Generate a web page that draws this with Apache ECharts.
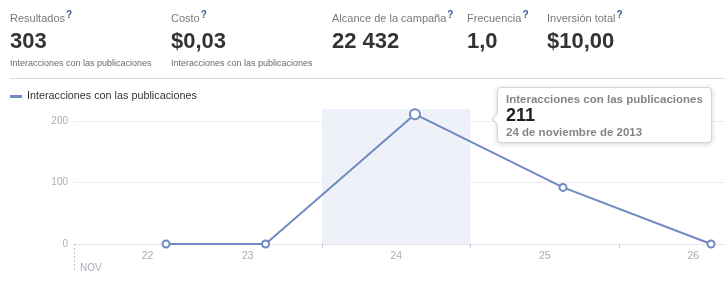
<!DOCTYPE html>
<html>
<head>
<meta charset="utf-8">
<script src="https://cdn.jsdelivr.net/npm/echarts@6/dist/echarts.min.js"></script>
<style>
  html, body { margin:0; padding:0; background:#fff; }
  #wrap { position:relative; width:725px; height:282px; overflow:hidden; font-family:"Liberation Sans", Arial, sans-serif; }
  #chart { position:absolute; left:0; top:0; width:725px; height:282px; }
  .kpi { position:absolute; white-space:nowrap; }
  .kl { position:absolute; top:13px; font-size:11px; line-height:11px; color:#7a7a7a; }
  .kl b { position:relative; top:-4px; font-size:10px; color:#3b5998; margin-left:1px; }
  .kv { position:absolute; top:30px; font-size:22px; line-height:22px; font-weight:bold; color:#333; }
  .ks { position:absolute; top:59px; font-size:9px; line-height:9px; color:#6a6a6a; }
  #sep { position:absolute; left:10px; top:78px; width:715px; height:1px; background:#dcdcdc; }
</style>
</head>
<body>
<div id="wrap">
  <div id="chart"></div>
  <div id="sep"></div>
</div>
<script>
// ---- data ----
const kpiLabels = ['Resultados', 'Costo', 'Alcance de la campaña', 'Frecuencia', 'Inversión total'];
const kpiValues = ['303', '$0,03', '22 432', '1,0', '$10,00'];
const kpiSubs   = ['Interacciones con las publicaciones', 'Interacciones con las publicaciones', '', '', ''];
const seriesName = 'Interacciones con las publicaciones';
const dayLabels = ['22', '23', '24', '25', '26'];          // x tick labels (days of Nov)
const labelDays = [22.825, 23.5, 24.5, 25.5, 26.5];        // where those labels sit (day units)
const dayBoundaries = [24, 25, 26];                         // day separator ticks
const pointDays = [22.95, 23.62, 24.626, 25.623, 26.62];   // sample times (day units)
const interactions = [0, 0, 211, 92, 0];
const monthLabel = 'NOV';
const axisStartDay = 22.33, axisEndDay = 26.714;
const yMax = 219.5, yStep = 100;
const highlightIndex = 2;
const tooltipDate = '24 de noviembre de 2013';

// ---- header ----
const kpiX = [10, 171, 332, 467, 547];
const wrap = document.getElementById('wrap');
kpiLabels.forEach((lab, i) => {
  const d = document.createElement('div');
  d.className = 'kpi';
  d.style.left = kpiX[i] + 'px';
  d.innerHTML = '<div class="kl">' + lab + '<b>?</b></div>' +
                '<div class="kv">' + kpiValues[i] + '</div>' +
                (kpiSubs[i] ? '<div class="ks">' + kpiSubs[i] + '</div>' : '');
  wrap.appendChild(d);
});

// ---- chart ----
const lineColor = '#7189c3';
const chart = echarts.init(document.getElementById('chart'), null, { renderer: 'canvas' });
const seriesData = pointDays.map((t, i) => {
  const big = i === highlightIndex;
  return {
    value: [t, interactions[i]],
    symbolSize: big ? 10 : 7,
    itemStyle: { borderWidth: big ? 3 : 2 }
  };
});
const fontFam = '"Liberation Sans", Arial, sans-serif';
chart.setOption({
  animation: false,
  textStyle: { fontFamily: fontFam },
  grid: { left: 74, right: 0, top: 109, bottom: 38, containLabel: false },
  legend: {
    data: [seriesName], left: 10, top: 91, padding: 0,
    icon: 'rect', itemWidth: 12, itemHeight: 3, itemGap: 5,
    textStyle: { fontSize: 10.8, color: '#333', fontFamily: fontFam },
    selectedMode: false
  },
  xAxis: [{
    type: 'value', min: axisStartDay, max: axisEndDay, position: 'bottom',
    axisLine: { show: true, onZero: false, lineStyle: { color: '#e6e7ea', width: 1 } },
    axisTick: { show: true, customValues: dayBoundaries, length: 4, lineStyle: { color: '#c8ccd3' } },
    axisLabel: {
      show: true, customValues: labelDays, margin: 7, fontSize: 10.5, color: '#a9adb6',
      showMinLabel: true, showMaxLabel: true, hideOverlap: false,
      formatter: v => {
        let best = 0;
        labelDays.forEach((p, i) => { if (Math.abs(p - v) < Math.abs(labelDays[best] - v)) best = i; });
        return dayLabels[best];
      }
    },
    splitLine: { show: false }
  }, {
    type: 'value', min: axisStartDay, max: axisEndDay, position: 'bottom',
    axisLine: { show: false },
    axisTick: { show: true, customValues: [axisStartDay], length: 28, lineStyle: { color: '#c4c7cd', type: [2, 2] } },
    axisLabel: {
      show: true, customValues: [axisStartDay], margin: 19, fontSize: 10, color: '#a9adb6',
      align: 'left', padding: [0, 0, 0, 6], showMinLabel: true,
      formatter: () => monthLabel
    },
    splitLine: { show: false }
  }],
  yAxis: {
    type: 'value', min: 0, max: yMax, interval: yStep,
    axisLine: { show: false }, axisTick: { show: false },
    axisLabel: { margin: 6, fontSize: 10, color: '#a9adb6', showMaxLabel: false },
    splitLine: { show: true, showMaxLine: false, lineStyle: { color: '#ebedf0', width: 1 } }
  },
  tooltip: {
    trigger: 'item', triggerOn: 'none', alwaysShowContent: true,
    transitionDuration: 0, position: [497, 87],
    backgroundColor: '#fff', borderColor: '#d4d4d4', borderWidth: 1, padding: [4, 8, 3, 8],
    extraCssText: 'border-radius:4px;box-shadow:0 1px 5px rgba(0,0,0,0.18);overflow:visible;',
    formatter: p => {
      return '<div style="position:relative;font-family:' + "'Liberation Sans',Arial,sans-serif" + ';">' +
        '<div style="position:absolute;left:-13px;top:23px;width:7px;height:7px;background:#fff;border-left:1px solid #d4d4d4;border-bottom:1px solid #d4d4d4;transform:rotate(45deg);"></div>' +
        '<div style="font-size:11.5px;line-height:14px;font-weight:bold;color:#858585;">' + p.seriesName + '</div>' +
        '<div style="font-size:18px;line-height:19px;font-weight:bold;color:#1e1e1e;">' + p.value[1] + '</div>' +
        '<div style="font-size:11.5px;line-height:14px;font-weight:bold;color:#858585;">' + tooltipDate + '</div>' +
        '</div>';
    }
  },
  series: [{
    name: seriesName, type: 'line', xAxisIndex: 0,
    data: seriesData,
    symbol: 'emptyCircle',
    lineStyle: { color: lineColor, width: 2 },
    itemStyle: { color: lineColor, borderColor: lineColor },
    emphasis: { disabled: true },
    clip: false,
    markArea: {
      silent: true,
      itemStyle: { color: '#eef1f7' },
      data: [[{ xAxis: Math.floor(pointDays[highlightIndex]) }, { xAxis: Math.floor(pointDays[highlightIndex]) + 1 }]]
    }
  }]
});
chart.dispatchAction({ type: 'showTip', seriesIndex: 0, dataIndex: highlightIndex });
</script>
</body>
</html>
